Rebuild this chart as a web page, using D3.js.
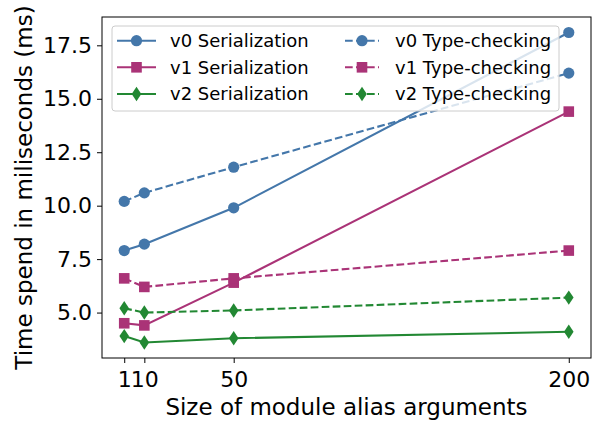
<!DOCTYPE html>
<html><head><meta charset="utf-8">
<script src="https://cdn.jsdelivr.net/npm/d3@7"></script>
<style>body{margin:0;background:#fff}svg{display:block;font-family:"DejaVu Sans",sans-serif}</style>
</head><body><svg id="c" width="592" height="425"></svg>
<script>
const xValues = [1, 10, 50, 200];
const yTicks = [5.0, 7.5, 10.0, 12.5, 15.0, 17.5];
const seriesNames = ["v0 Serialization","v1 Serialization","v2 Serialization","v0 Type-checking","v1 Type-checking","v2 Type-checking"];
const v0Serialization = [7.9, 8.2, 9.9, 18.1];
const v1Serialization = [4.5, 4.4, 6.4, 14.4];
const v2Serialization = [3.9, 3.6, 3.8, 4.1];
const v0TypeChecking = [10.2, 10.6, 11.8, 16.2];
const v1TypeChecking = [6.6, 6.2, 6.6, 7.9];
const v2TypeChecking = [5.2, 5.0, 5.1, 5.7];
const colors = ["#4477AA", "#AA3377", "#228833"];
const markers = ["circle", "square", "diamond"];

const series = [
  {name: seriesNames[0], vals: v0Serialization, c: 0, dash: false},
  {name: seriesNames[1], vals: v1Serialization, c: 1, dash: false},
  {name: seriesNames[2], vals: v2Serialization, c: 2, dash: false},
  {name: seriesNames[3], vals: v0TypeChecking, c: 0, dash: true},
  {name: seriesNames[4], vals: v1TypeChecking, c: 1, dash: true},
  {name: seriesNames[5], vals: v2TypeChecking, c: 2, dash: true}
];

const svg = d3.select("#c");
const L = 102, R = 591, T = 17, B = 358;
const x = d3.scaleLinear().domain([-8.95, 209.95]).range([L, R]);
const y = d3.scaleLinear().domain([2.875, 18.825]).range([B, T]);

const g = svg.append("g");
const xAxis = d3.axisBottom(x).tickValues(xValues).tickFormat(d3.format("d")).tickSize(5).tickPadding(8);
const yAxis = d3.axisLeft(y).tickValues(yTicks).tickFormat(d3.format(".1f")).tickSize(5).tickPadding(5);
const gx = g.append("g").attr("transform", `translate(0,${B})`).call(xAxis);
const gy = g.append("g").attr("transform", `translate(${L},0)`).call(yAxis);
[gx, gy].forEach(a => {
  a.select(".domain").remove();
  a.selectAll("text").attr("font-size", 22).attr("fill", "#000").attr("font-family", "DejaVu Sans");
  a.selectAll("line").attr("stroke", "#000").attr("stroke-width", 1);
});
g.append("rect").attr("x", L).attr("y", T).attr("width", R - L).attr("height", B - T)
  .attr("fill", "none").attr("stroke", "#000").attr("stroke-width", 1);

const line = d3.line().x((d, i) => x(xValues[i])).y(d => y(d));
function marker(sel, m, cx, cy, col) {
  if (m === "circle") {
    sel.append("circle").attr("cx", cx).attr("cy", cy).attr("r", 5.6).attr("fill", col);
  } else if (m === "square") {
    sel.append("rect").attr("x", cx - 5.3).attr("y", cy - 5.3).attr("width", 10.6).attr("height", 10.6).attr("fill", col);
  } else {
    sel.append("path").attr("d", `M${cx},${cy-7.2}L${cx+4.8},${cy}L${cx},${cy+7.2}L${cx-4.8},${cy}Z`).attr("fill", col);
  }
}
const plot = g.append("g");
series.forEach(s => {
  const col = colors[s.c];
  plot.append("path").datum(s.vals).attr("d", line).attr("fill", "none")
    .attr("stroke", col).attr("stroke-width", 2.1)
    .attr("stroke-dasharray", s.dash ? "7.7,3.3" : null);
  s.vals.forEach((v, i) => marker(plot, markers[s.c], x(xValues[i]), y(v), col));
});

const lg = g.append("g");
lg.append("rect").attr("x", 112).attr("y", 26).attr("width", 447).attr("height", 85).attr("rx", 3)
  .attr("fill", "rgba(255,255,255,0.8)").attr("stroke", "#cccccc").attr("stroke-width", 1);
const rowsY = [40.7, 67.3, 94];
series.forEach((s, k) => {
  const col = colors[s.c];
  const ci = s.dash ? 1 : 0;
  const x0 = ci ? 345 : 117, x1 = ci ? 379 : 156;
  const ty = rowsY[k % 3];
  lg.append("line").attr("x1", x0).attr("x2", x1).attr("y1", ty).attr("y2", ty)
    .attr("stroke", col).attr("stroke-width", 2.1).attr("stroke-dasharray", s.dash ? "7.7,3.3" : null);
  marker(lg, markers[s.c], (x0 + x1) / 2, ty, col);
  lg.append("text").attr("x", ci ? 395 : 170).attr("y", ty).attr("dy", "0.35em")
    .attr("font-size", 18).attr("fill", "#000").text(s.name);
});

g.append("text").attr("x", (L + R) / 2).attr("y", 415).attr("text-anchor", "middle")
  .attr("font-size", 23).text("Size of module alias arguments");
g.append("text").attr("transform", `translate(32,${(T + B) / 2}) rotate(-90)`).attr("text-anchor", "middle")
  .attr("font-size", 23).text("Time spend in miliseconds (ms)");
</script></body></html>
